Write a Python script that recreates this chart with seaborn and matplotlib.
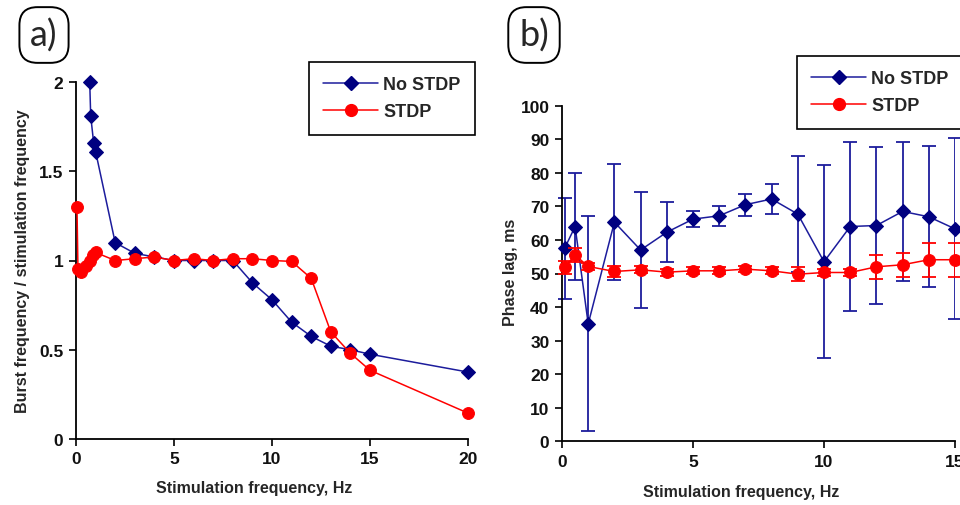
import matplotlib
matplotlib.use("Agg")
import matplotlib.pyplot as plt
from matplotlib.lines import Line2D
import seaborn as sns
import pandas as pd

# ---------------- data ----------------
# Panel a: burst frequency / stimulation frequency
a_nostdp_x = [0.7, 0.75, 0.9, 1.0, 2, 3, 4, 5, 6, 7, 8, 9, 10, 11, 12, 13, 14, 15, 20]
a_nostdp_y = [2.0, 1.81, 1.66, 1.61, 1.10, 1.04, 1.02, 1.0, 1.0, 1.0, 1.0, 0.875, 0.78,
              0.655, 0.575, 0.52, 0.50, 0.475, 0.375]
a_stdp_x = [0.05, 0.1, 0.25, 0.5, 0.7, 0.85, 1.0, 2, 3, 4, 5, 6, 7, 8, 9, 10, 11, 12, 13,
            14, 15, 20]
a_stdp_y = [1.30, 0.95, 0.935, 0.97, 1.0, 1.03, 1.045, 1.0, 1.01, 1.02, 1.0, 1.01, 1.0,
            1.01, 1.01, 1.0, 0.995, 0.90, 0.60, 0.48, 0.385, 0.145]

# Panel b: phase lag (ms) with error bars
b_x = [0.1, 0.5, 1, 2, 3, 4, 5, 6, 7, 8, 9, 10, 11, 12, 13, 14, 15]
b_nostdp_y = [57.5, 64.0, 35.0, 65.3, 57.0, 62.3, 66.2, 67.2, 70.5, 72.2, 67.7, 53.5,
              64.0, 64.3, 68.5, 66.9, 63.3]
b_nostdp_err = [15.0, 16.0, 32.0, 17.3, 17.4, 9.0, 2.4, 2.9, 3.3, 4.6, 17.3, 28.7,
                25.3, 23.5, 20.7, 21.0, 27.0]
b_stdp_y = [51.8, 55.5, 52.1, 50.6, 51.1, 50.4, 50.8, 50.8, 51.3, 50.8, 49.8, 50.3,
            50.3, 52.0, 52.6, 54.1, 54.1]
b_stdp_err = [2.0, 2.0, 1.0, 1.5, 1.0, 1.0, 1.0, 1.0, 1.0, 1.0, 2.0, 1.0,
              1.0, 3.5, 3.6, 5.0, 5.0]

series_names = ["No STDP", "STDP"]
a_xticks = [0, 5, 10, 15, 20]
a_yticks = [0, 0.5, 1, 1.5, 2]
b_xticks = [0, 5, 10, 15]
b_yticks = list(range(0, 101, 10))

# ---------------- style ----------------
sns.set_theme(style="white")
plt.rcParams["font.family"] = ["Liberation Sans", "DejaVu Sans"]

BLUE_LINE = "#1c1c9c"
BLUE_MK = "#000080"
RED = "#ff0000"
TICK_FS = 12.5
LAB_FS = 11.5

fig = plt.figure(figsize=(9.6, 5.06), dpi=100)
W, H = 960, 506
axa = fig.add_axes([76 / W, (H - 440) / H, (468 - 76) / W, (440 - 83) / H])
axb = fig.add_axes([562 / W, (H - 442.3) / H, (955 - 562) / W, (442.3 - 106.7) / H])

df_a1 = pd.DataFrame({"x": a_nostdp_x, "y": a_nostdp_y})
df_a2 = pd.DataFrame({"x": a_stdp_x, "y": a_stdp_y})

sns.lineplot(data=df_a1, x="x", y="y", ax=axa, color=BLUE_LINE, lw=1.1, marker="D",
             markersize=7.5, markerfacecolor=BLUE_MK, markeredgecolor=BLUE_MK,
             estimator=None, zorder=3)
sns.lineplot(data=df_a2, x="x", y="y", ax=axa, color=RED, lw=1.1, marker="o",
             markersize=8.5, markerfacecolor=RED, markeredgecolor=RED,
             estimator=None, zorder=4)

df_b1 = pd.DataFrame({"x": b_x, "y": b_nostdp_y})
df_b2 = pd.DataFrame({"x": b_x, "y": b_stdp_y})
axb.errorbar(b_x, b_nostdp_y, yerr=b_nostdp_err, fmt="none", ecolor=BLUE_LINE,
             elinewidth=1.3, capsize=5, capthick=1.3, zorder=2)
sns.lineplot(data=df_b1, x="x", y="y", ax=axb, color=BLUE_LINE, lw=1.1, marker="D",
             markersize=7.5, markerfacecolor=BLUE_MK, markeredgecolor=BLUE_MK,
             estimator=None, zorder=3)
axb.errorbar(b_x, b_stdp_y, yerr=b_stdp_err, fmt="none", ecolor=RED,
             elinewidth=1.3, capsize=5, capthick=1.3, zorder=4)
sns.lineplot(data=df_b2, x="x", y="y", ax=axb, color=RED, lw=1.1, marker="o",
             markersize=8.5, markerfacecolor=RED, markeredgecolor=RED,
             estimator=None, zorder=5)

for ax, xt, yt, xl, yl, ylab in [
    (axa, a_xticks, a_yticks, (0, 20), (0, 2), "Burst frequency / stimulation frequency"),
    (axb, b_xticks, b_yticks, (0, 15), (0, 100), "Phase lag, ms"),
]:
    ax.set_xlim(*xl)
    ax.set_ylim(*yl)
    ax.set_xticks(xt)
    ax.set_yticks(yt)
    ax.set_xticklabels([f"{v:g}" for v in xt], fontsize=TICK_FS, fontweight="bold")
    ax.set_yticklabels([f"{v:g}" for v in yt], fontsize=TICK_FS, fontweight="bold")
    for s in ["top", "right"]:
        ax.spines[s].set_visible(False)
    for s in ["left", "bottom"]:
        ax.spines[s].set_color("black")
        ax.spines[s].set_linewidth(1.3)
    ax.tick_params(axis="both", direction="out", length=5, width=1.2, color="black",
                   left=True, bottom=True, pad=4, labelcolor="#111111")
    ax.set_xlabel("Stimulation frequency, Hz", fontsize=LAB_FS, fontweight="bold")
    ax.set_ylabel(ylab, fontsize=LAB_FS, fontweight="bold")
    for c in ax.get_children():
        if isinstance(c, Line2D):
            c.set_clip_on(False)
    if ax.get_legend():
        ax.get_legend().remove()

axa.xaxis.set_label_coords(0.455, -0.115)
axa.yaxis.set_label_coords(-0.118, 0.5)
axb.xaxis.set_label_coords(0.457, -0.127)
axb.yaxis.set_label_coords(-0.112, 0.507)

handles = [
    Line2D([], [], color=BLUE_LINE, lw=1.1, marker="D", markersize=7.5,
           markerfacecolor=BLUE_MK, markeredgecolor=BLUE_MK),
    Line2D([], [], color=RED, lw=1.1, marker="o", markersize=8.5,
           markerfacecolor=RED, markeredgecolor=RED),
]
for anchor in [(309 / W, 1 - 62.7 / H), (797 / W, 1 - 56.7 / H)]:
    leg = fig.legend(handles, series_names, loc="upper left", bbox_to_anchor=anchor,
                     bbox_transform=fig.transFigure, borderaxespad=0, frameon=True,
                     fancybox=False, edgecolor="black", framealpha=1,
                     prop={"family": ["Liberation Sans"], "weight": "bold", "size": 13},
                     handlelength=3.0, handletextpad=0.3, labelspacing=0.55,
                     borderpad=0.8)
    leg.get_frame().set_linewidth(1.2)

for lab, x0 in [("a)", 13), ("b)", 503)]:
    fig.text((x0 + 31) / W, 1 - 36 / H, lab, fontsize=26, ha="center", va="center",
             family=["Lato", "DejaVu Sans"],
             bbox=dict(boxstyle="round,pad=0.3,rounding_size=0.5", fc="white",
                       ec="black", lw=1.4))

fig.savefig("out.png", dpi=100)
